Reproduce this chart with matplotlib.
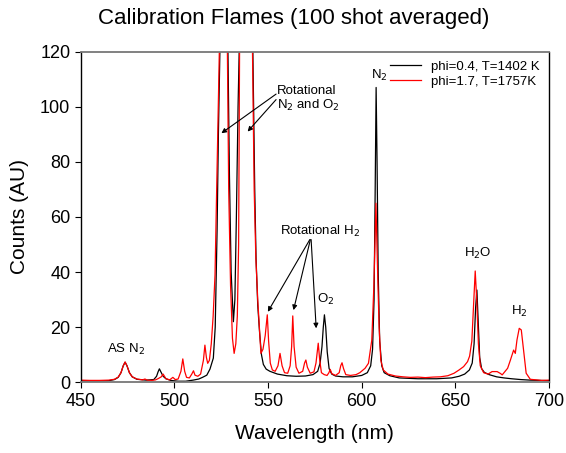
import matplotlib
matplotlib.use('Agg')
import matplotlib.pyplot as plt

plt.rcParams['font.family'] = ['Liberation Sans', 'DejaVu Sans']

# phi=0.4 flame (black trace): wavelength (nm) / counts (AU)
wl_black = [450, 455, 460, 465, 468, 470, 471.5, 472.7, 473.7, 474.7,
            476, 477.5, 480, 485, 489, 490.5, 491.3, 492, 492.8, 494,
            495.5, 498, 502, 506, 510, 513, 515, 517.3, 519, 520.8,
            521.8, 522.8, 523.5, 524.3, 526.5, 528.6, 529.4, 530.3, 531.5, 532.3,
            533.1, 534.0, 534.6, 538.2, 541.9, 542.9, 543.6, 544.5, 545.5, 546.5,
            547.5, 549, 551, 555, 560, 565, 570, 574, 576.5, 577.8,
            578.8, 579.5, 580.1, 580.8, 581.6, 582.6, 584, 586, 590, 595,
            600, 603, 604.8, 605.8, 606.6, 607.2, 607.7, 608.2, 608.8, 609.6,
            610.7, 612, 615, 620, 630, 640, 648, 652, 655, 657.5,
            659, 660, 660.8, 661.5, 662.2, 663, 664, 665.5, 668, 672,
            676, 680, 685, 690, 695, 700]
cts_black = [0.6, 0.5, 0.5, 0.6, 1.0, 1.8, 3.5, 6.0, 7.3, 6.0,
             3.5, 2.0, 1.1, 0.8, 1.0, 2.2, 3.8, 4.9, 3.8, 2.2,
             1.3, 0.7, 0.4, 0.4, 0.8, 1.2, 1.8, 2.6, 4.8, 8.8,
             20, 55, 90, 120, 300, 120, 75, 40, 22, 30,
             60, 100, 120, 300, 120, 70, 45, 28, 18, 10,
             6.5, 4.8, 4.0, 3.0, 2.4, 2.2, 2.3, 2.8, 4.0, 7.0,
             13, 20, 24.5, 20, 11, 5, 3, 2.3, 2.0, 2.0,
             2.5, 3.5, 6, 12, 30, 70, 107, 80, 40, 15,
             6, 3.5, 2.4, 1.6, 1.3, 1.3, 1.6, 2.2, 3, 4.5,
             7, 14, 27, 33.5, 22, 9, 5, 3.6, 2.8, 2.0,
             1.6, 1.3, 1.0, 0.8, 0.7, 0.6]

# phi=1.7 flame (red trace)
wl_red = [450, 455, 460, 465, 468, 470, 471.5, 472.7, 473.7, 474.7,
          476, 477.5, 480, 483, 484.3, 485.5, 488, 490, 491.5, 493,
          494, 495.5, 497.5, 499.2, 500.5, 502, 503.5, 504.5, 505.5, 506.5,
          508, 509.3, 510.2, 511, 512.5, 514, 515.5, 516.3, 517.1, 517.8,
          518.7, 519.7, 520.7, 521.7, 522.6, 524.0, 526.3, 528.3, 529.0, 530.0,
          531.0, 531.9, 532.8, 533.6, 534.3, 534.8, 538.2, 541.7, 542.6, 543.5,
          544.5, 545.4, 546.2, 547.3, 548.5, 549.6, 550.3, 551.2, 552.3, 553.8,
          555.3, 556.4, 557.5, 558.8, 560.5, 561.8, 562.6, 563.2, 563.9, 565,
          566.5, 568.5, 569.5, 570.2, 571, 572.5, 574.5, 575.6, 576.8, 577.6,
          578.5, 580, 581.5, 582.5, 583.2, 584, 586, 588, 588.8, 589.5,
          590.3, 591.5, 594, 597, 599, 601.8, 603.6, 605.4, 606.5, 607.6,
          608.5, 609.3, 610.2, 611.5, 614, 618, 622, 626, 630, 634,
          638, 642, 646, 649.3, 652, 654.4, 656.5, 657.6, 658.8, 659.7,
          660.6, 661.4, 662.3, 663.3, 665.1, 667.5, 669.6, 672.3, 674.1, 675.0,
          677.9, 679.4, 681.1, 682.0, 682.9, 684.1, 685.2, 686.4, 687.8, 690.0,
          693, 696, 700]
cts_red = [0.8, 0.7, 0.7, 0.8, 1.1, 1.9, 3.5, 6.0, 7.4, 6.0,
           3.5, 2.0, 1.2, 0.9, 1.2, 0.8, 0.7, 0.9, 1.4, 2.0,
           3.0, 1.3, 0.9, 1.8, 1.0, 1.2, 4.0, 8.5, 4.0, 1.8,
           1.6, 3.0, 4.2, 2.6, 2.2, 3.0, 8.0, 13.5, 9.0, 6.9,
           8.0, 14, 24, 39, 70, 120, 300, 120, 70, 35,
           16, 10.5, 14, 24, 50, 120, 300, 120, 70, 45,
           30, 20, 10.5, 12, 17, 24.5, 15, 7, 4.5, 4.0,
           6, 10.5, 6, 3.5, 3.3, 6, 13, 24.1, 13, 5.5,
           3.3, 4, 7, 8.1, 5.5, 3.3, 3.8, 7, 14.2, 8,
           3.5, 2.8, 2.5, 3.5, 4.7, 3.2, 2.5, 3.5, 6, 7.1,
           5, 2.8, 2.5, 2.8, 3.5, 5.1, 6.9, 15.4, 35, 65,
           40, 20, 8, 4.5, 3, 2.3, 2.0, 1.8, 1.9, 1.7,
           1.9, 2.0, 2.4, 3.3, 4.5, 5.7, 7.5, 9.5, 15, 28,
           40.4, 30, 14, 6, 3.5, 3.0, 3.9, 3.9, 3.2, 2.7,
           5.1, 8.1, 11.7, 10.5, 15.4, 19.6, 19.0, 11.7, 3.3, 1.1,
           0.9, 0.7, 0.8]

series_labels = ['phi=0.4, T=1402 K', 'phi=1.7, T=1757K']
x_ticks = [450, 500, 550, 600, 650, 700]
y_ticks = [0, 20, 40, 60, 80, 100, 120]

fig = plt.figure(figsize=(5.66, 4.53), dpi=100)
ax = fig.add_axes([0.1426, 0.156, 0.8274, 0.730])

ax.plot(wl_black, cts_black, color='black', lw=0.9, label=series_labels[0])
ax.plot(wl_red, cts_red, color='#ff0000', lw=0.9, label=series_labels[1])

ax.set_xlim(450, 700)
ax.set_ylim(0, 120)
ax.set_xticks(x_ticks)
ax.set_yticks(y_ticks)
ax.tick_params(direction='out', length=4, width=0.8, labelsize=13)

for s in ['top', 'bottom']:
    ax.spines[s].set_color('#777777')
    ax.spines[s].set_linewidth(1.3)
for s in ['left', 'right']:
    ax.spines[s].set_color('black')
    ax.spines[s].set_linewidth(1.0)

ax.set_xlabel('Wavelength (nm)', fontsize=15, labelpad=10)
ax.set_ylabel('Counts (AU)', fontsize=15, labelpad=8)
fig.text(0.518, 0.96, 'Calibration Flames (100 shot averaged)', ha='center', va='center', fontsize=16)

leg = ax.legend(loc='upper right', frameon=False, fontsize=9.5, handlelength=2.3,
                borderaxespad=0.3, labelspacing=0.2)

# peak labels
fs = 9.5
ax.text(474.2, 12.1, 'AS N$_2$', ha='center', va='center', fontsize=fs)
ax.text(609.4, 111.5, 'N$_2$', ha='center', va='center', fontsize=fs)
ax.text(580.8, 29.9, 'O$_2$', ha='center', va='center', fontsize=fs)
ax.text(662.0, 46.9, 'H$_2$O', ha='center', va='center', fontsize=fs)
ax.text(684.1, 25.7, 'H$_2$', ha='center', va='center', fontsize=fs)
ax.text(554.8, 102.8, 'Rotational\nN$_2$ and O$_2$', ha='left', va='center', fontsize=fs,
        linespacing=1.0)
ax.text(577.8, 54.6, 'Rotational H$_2$', ha='center', va='center', fontsize=fs)

arrow = dict(arrowstyle='-|>', color='black', lw=0.8, mutation_scale=7, shrinkA=0, shrinkB=0)
ax.annotate('', xy=(525.1, 90.4), xytext=(554.3, 104.6), arrowprops=arrow)
ax.annotate('', xy=(539.1, 91.0), xytext=(554.3, 102.6), arrowprops=arrow)
ax.annotate('', xy=(549.9, 25.6), xytext=(572.3, 51.8), arrowprops=arrow)
ax.annotate('', xy=(563.6, 26.2), xytext=(572.6, 51.8), arrowprops=arrow)
ax.annotate('', xy=(575.7, 19.6), xytext=(573.0, 51.8), arrowprops=arrow)

fig.savefig('out.png', dpi=100)
plt.close(fig)
